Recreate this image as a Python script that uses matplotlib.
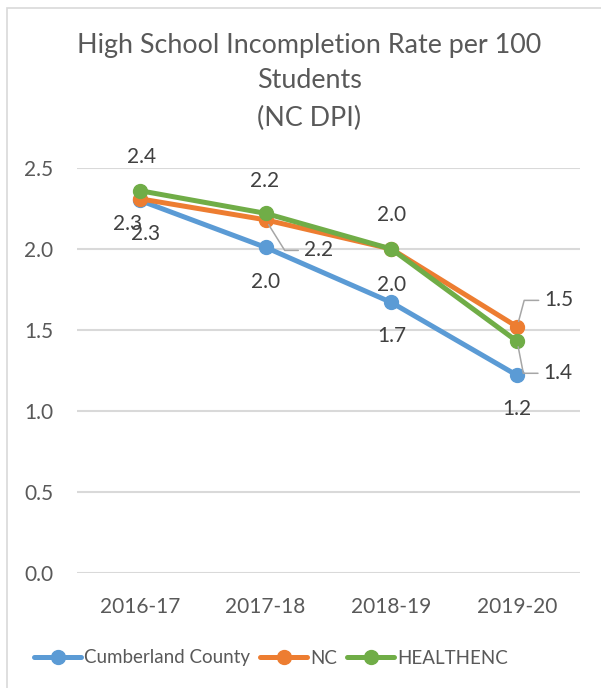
import matplotlib
matplotlib.use('Agg')

import matplotlib.pyplot as plt
from matplotlib.patches import Rectangle

plt.rcParams['font.family'] = ['Lato', 'DejaVu Sans']

years = ['2016-17', '2017-18', '2018-19', '2019-20']
cumberland = [2.30, 2.01, 1.67, 1.22]
nc = [2.31, 2.18, 2.00, 1.52]
healthenc = [2.36, 2.22, 2.00, 1.43]
series_names = ['Cumberland County', 'NC', 'HEALTHENC']
title_lines = ['High School Incompletion Rate per 100', 'Students', '(NC DPI)']
yticks = [0.0, 0.5, 1.0, 1.5, 2.0, 2.5]

COLORS = ['#5B9BD5', '#ED7D31', '#70AD47']
TEXT = '#595959'
LABEL = '#404040'
GRID = '#D9D9D9'

# label offsets in points, one list per series
label_offsets = [
    [(4, -24.5), (0, -25), (0, -24), (0, -24)],
    [(-9, -18), (38, -22), (0, -26), (30, 19)],
    [(1, 24), (-1, 23), (0, 24.5), (29.5, -23)],
]
# leader lines: (series index, point index, angle of leg at the point)
leaders = [(1, 1, -58), (1, 3, 75), (2, 3, -79)]


def main():
    fig = plt.figure(figsize=(6.01, 6.88), dpi=100)
    ax = fig.add_axes([77 / 601, 1 - 573 / 688, 503 / 601, 405 / 688])

    data = [cumberland, nc, healthenc]
    x = list(range(len(years)))
    for vals, name, col in zip(data, series_names, COLORS):
        ax.plot(x, vals, color=col, lw=3.6, marker='o', ms=10,
                solid_capstyle='round', label=name, zorder=3)

    leader_set = {(s, i): a for s, i, a in leaders}
    for s, vals in enumerate(data):
        for i, v in enumerate(vals):
            dx, dy = label_offsets[s][i]
            kw = {}
            if (s, i) in leader_set:
                ang = leader_set[(s, i)]
                kw['arrowprops'] = dict(
                    arrowstyle='-', color='#A6A6A6', lw=1.1,
                    shrinkA=2, shrinkB=4,
                    connectionstyle='angle,angleA=0,angleB=%d,rad=0' % ang)
            ax.annotate('{:.1f}'.format(v), (i, v), xytext=(dx, dy),
                        textcoords='offset points', ha='center', va='center',
                        fontsize=15, color=LABEL, annotation_clip=False,
                        zorder=4, **kw)

    ax.set_xlim(-0.5, 3.5)
    ax.set_ylim(0, 2.5)
    ax.set_xticks(x)
    ax.set_xticklabels(years)
    ax.set_yticks(yticks)
    ax.set_yticklabels(['{:.1f}'.format(t) for t in yticks])
    ax.tick_params(length=0, labelsize=15, labelcolor=TEXT)
    ax.tick_params(axis='x', pad=17)
    ax.tick_params(axis='y', pad=17)
    for sp in ax.spines.values():
        sp.set_visible(False)
    ax.grid(axis='y', color=GRID, lw=1.5)
    ax.set_axisbelow(True)

    for line, yy in zip(title_lines, [45, 80, 118]):
        fig.text(309 / 601, 1 - yy / 688, line, ha='center', va='center',
                 fontsize=19.4, color=TEXT)

    fig.legend(loc='center', bbox_to_anchor=(271 / 601, 1 - 658 / 688),
               ncol=3, frameon=False, fontsize=13.5, handlelength=2.5,
               handletextpad=0.15, columnspacing=0.55, labelcolor=TEXT)

    fig.add_artist(Rectangle((6.5 / 601, -0.1), 1.2, 1.1 - 8 / 688,
                             transform=fig.transFigure, fill=False,
                             edgecolor=GRID, lw=1.2))

    fig.savefig('out.png', dpi=100)


if __name__ == '__main__':
    main()
